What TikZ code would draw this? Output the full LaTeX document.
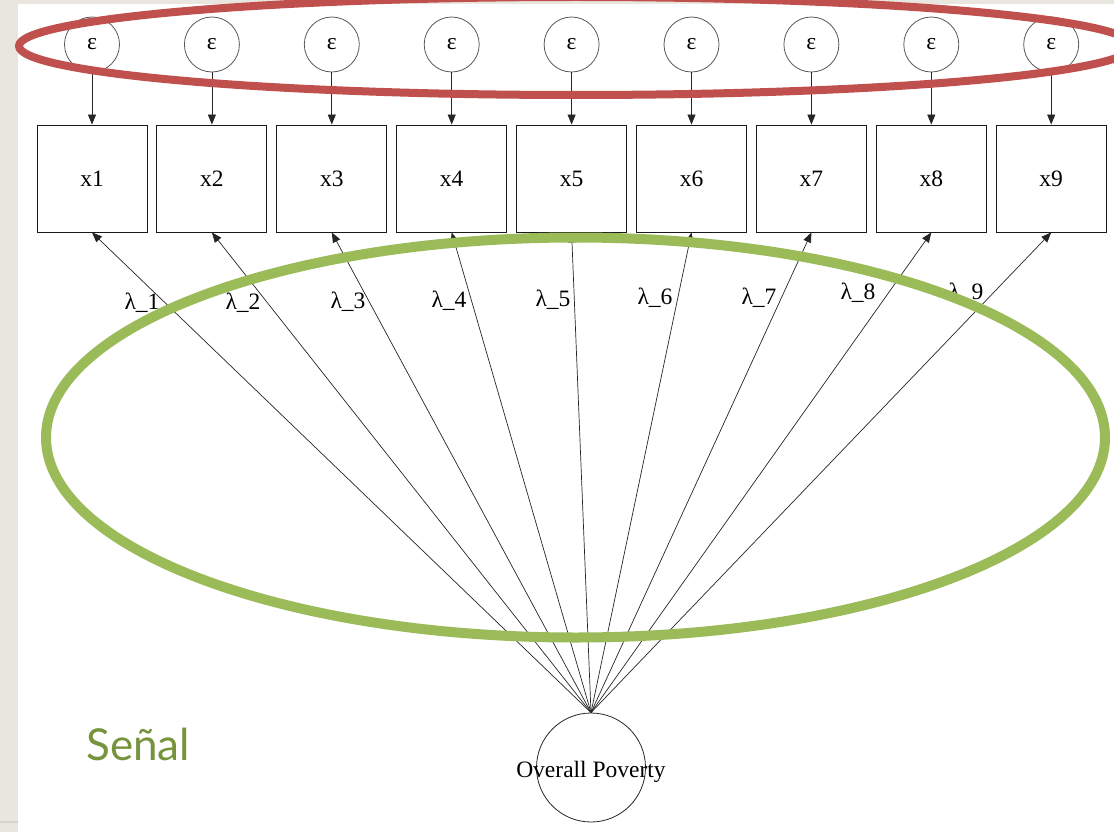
\documentclass[tikz,border=0pt]{standalone}
\usepackage{fontspec}
\setmainfont{Liberation Serif}
\newfontfamily\senalfont{Lato}
\usetikzlibrary{arrows.meta}
\definecolor{bgbeige}{RGB}{233,230,223}
\definecolor{stripline}{RGB}{214,211,203}
\definecolor{ovalred}{RGB}{192,80,77}
\definecolor{ovalgreen}{RGB}{155,187,89}
\definecolor{textgreen}{RGB}{119,147,60}
\begin{document}
\begin{tikzpicture}[x=1pt,y=-1pt,
  diagfont/.style={font=\fontsize{23.5}{25}\selectfont},
  errnode/.style={circle,draw=black!65,line width=0.8pt,minimum size=55pt,inner sep=0pt,diagfont},
  obsbox/.style={rectangle,draw=black!90,line width=0.9pt,minimum width=110pt,minimum height=107pt,inner sep=0pt,diagfont},
  errarrow/.style={draw=black!85,line width=0.8pt,-{Triangle[length=10pt,width=8pt]}},
  loadarrow/.style={draw=black!85,line width=0.7pt,-{Triangle[length=10pt,width=8pt]}},
  latentnode/.style={circle,draw=black!85,line width=0.8pt,minimum size=109pt,inner sep=0pt},
  lamlabel/.style={inner sep=0pt,diagfont},
  redoval/.style={draw=ovalred,line width=8pt},
  greenoval/.style={draw=ovalgreen,line width=10pt},
  senalstyle/.style={text=textgreen,inner sep=0pt,anchor=west,font=\senalfont\fontsize{44}{48}\selectfont}
]
\useasboundingbox (0,0) rectangle (1114,832);
\clip (0,0) rectangle (1114,832);
\fill[bgbeige] (0,0) rectangle (1114,832);
\fill[white] (18,4) rectangle (1114,832);
\fill[stripline] (0,821) rectangle (18,823);

\foreach \i in {1,...,9} {
  \pgfmathsetmacro\xc{92+119.9*(\i-1)}
  \node[errnode] (e\i) at (\xc,44.5) {ε};
  \node[obsbox] (x\i) at (\xc,178.5) {x\i};
  \draw[errarrow] (e\i) -- (x\i);
}

\node[latentnode] (ov) at (591,767.5) {};
\node[diagfont,inner sep=0pt] (ovtext) at (591,772) {Overall Poverty};
\foreach \i in {1,...,9} {
  \draw[loadarrow] (ov.north) -- (x\i.south);
}

\foreach \i/\lx/\ly in {1/142/303,2/243/303,3/348/302,4/449/301,5/553/300,6/655/298,7/759/298,8/858/293,9/966/293} {
  \node[lamlabel] (l\i) at (\lx,\ly) {λ\_\i};
}

\draw[redoval] (576,46) ellipse [x radius=557pt, y radius=49pt];
\draw[greenoval] (575.5,437.5) ellipse [x radius=529.5pt, y radius=200pt];
\node[senalstyle] (senal) at (86,744) {Señal};
\end{tikzpicture}
\end{document}
